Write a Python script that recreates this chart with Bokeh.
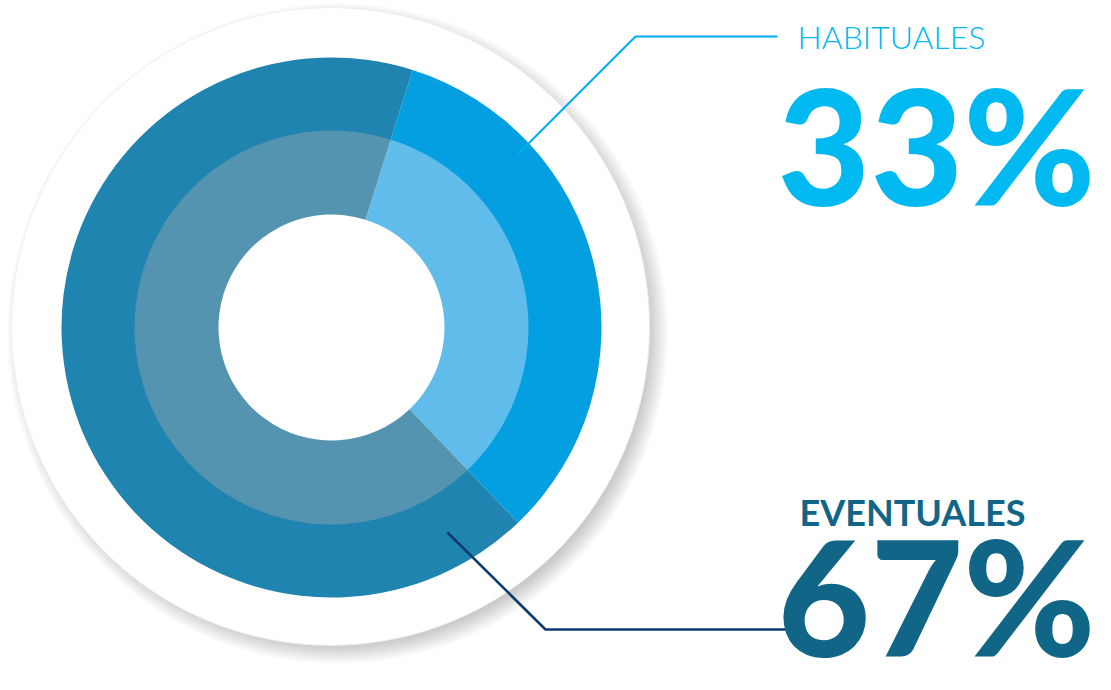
import math
from bokeh.plotting import figure
from bokeh.models import Range1d, ColumnDataSource
from bokeh.embed import file_html
from bokeh.resources import INLINE
from bokeh.core.properties import value

# ---- data ----
categories = ["HABITUALES", "EVENTUALES"]
percentages = [33, 67]
pct_labels = ["33%", "67%"]

outer_colors = ["#039FE1", "#2084B0"]
inner_colors = ["#60BCEA", "#5594B0"]
text_colors = ["#00B9F0", "#116688"]
line_colors = ["#00AEEF", "#0B3A6E"]

# ---- layout ----
W, H = 1095, 674
def Y(py):
    return H - py

CX, CY = 331, 327
START_DEG = 90 - 17.5  # habituales starts 17.5 deg clockwise from top
BASE_SHIFT = 0.39      # empirical baseline correction (em)

p = figure(width=W, height=H, output_backend="svg", toolbar_location=None,
           x_range=Range1d(0, W), y_range=Range1d(0, H), min_border=0)
p.axis.visible = False
p.grid.visible = False
p.outline_line_color = None
p.background_fill_color = "white"
p.border_fill_color = "white"

# shadow + background disc
for k in range(12):
    p.circle(x=[337], y=[Y(333)], radius=306 + k * 2.2, fill_color="#000000",
             fill_alpha=0.022, line_color=None)
p.circle(x=[330], y=[Y(326)], radius=319, fill_color="white",
         line_color="#EFEFEF", line_width=1)

# compute angles from data
starts, ends = [], []
a = math.radians(START_DEG)
for v in percentages:
    s = a
    e = a - 2 * math.pi * v / 100.0
    starts.append(s)
    ends.append(e)
    a = e

src_outer = ColumnDataSource(dict(start=starts, end=ends, color=outer_colors, cat=categories))
src_inner = ColumnDataSource(dict(start=starts, end=ends, color=inner_colors, cat=categories))

p.annular_wedge(x=CX, y=Y(CY), inner_radius=195, outer_radius=270,
                start_angle="start", end_angle="end", direction="clock",
                fill_color="color", line_color=None, source=src_outer)
p.annular_wedge(x=CX, y=Y(CY), inner_radius=113, outer_radius=197,
                start_angle="start", end_angle="end", direction="clock",
                fill_color="color", line_color=None, source=src_inner)

# connector lines
p.line(x=[517, 635, 777], y=[Y(154), Y(36), Y(36)], line_color=line_colors[0],
       line_width=2)
p.line(x=[447, 545, 788], y=[Y(532), Y(629), Y(629)], line_color=line_colors[1],
       line_width=2.5)

def put_text(x, baseline, txt, font, size, color, style="normal", align="left"):
    p.text(x=[x], y=[Y(baseline - BASE_SHIFT * size)], text=[txt],
           text_font=value(font), text_font_style=style,
           text_font_size=f"{size}px", text_baseline="alphabetic",
           text_align=align, text_color=color)

# labels
put_text(797, 48, categories[0], "Lato Light, Lato", 32, text_colors[0])
put_text(799, 526, categories[1], "Lato", 36, text_colors[1], style="bold")

big_font = "Lato Black, Lato"
put_text(1095, 206, pct_labels[0], big_font, 160, text_colors[0], style="bold", align="right")
put_text(1095, 657, pct_labels[1], big_font, 160, text_colors[1], style="bold", align="right")

open("out.html", "w").write(file_html(p, INLINE))
